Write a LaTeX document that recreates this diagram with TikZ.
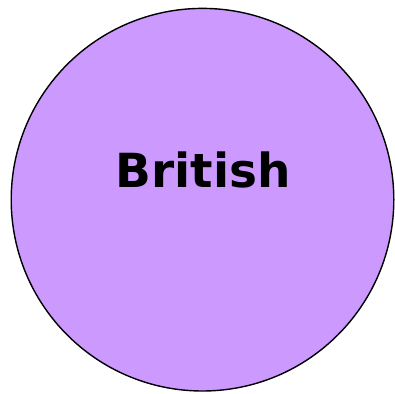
\documentclass[tikz,border=0pt]{standalone}
\usepackage{fontspec}
\setmainfont{DejaVu Sans}
\definecolor{lilac}{HTML}{CC99FF}
\begin{document}
\begin{tikzpicture}[x=1pt,y=1pt]
 \useasboundingbox (0,0) rectangle (395,393);
 \draw[fill=lilac,line width=1.4pt] (202.5,193.3) circle (191.3);
 \node[anchor=base,inner sep=0pt] (brit) at (203,205) {\fontsize{47}{53}\selectfont\bfseries British};
\end{tikzpicture}
\end{document}
